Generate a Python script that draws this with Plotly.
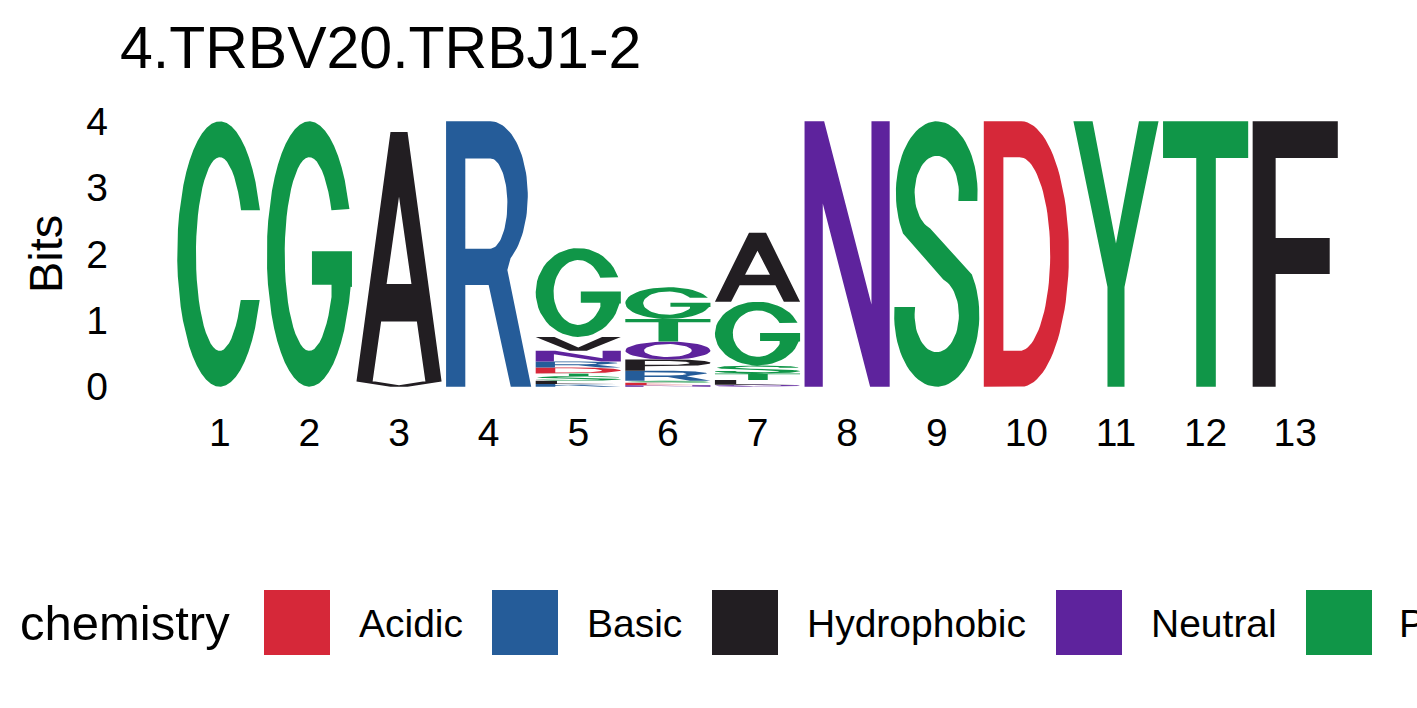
import numpy as np
import plotly.graph_objects as go

# sequence logo, 4.TRBV20.TRBJ1-2, coloured by chemistry (ggseqlogo look)
positions = list(range(1, 14))

# letters stacked bottom -> top at each position, with their height in bits
pos_letters = [
    ["C"],
    ["G"],
    ["V", "A"],
    ["R"],
    ["K", "L", "S", "T", "D", "R", "N", "V", "G"],
    ["N", "E", "S", "R", "P", "Q", "T", "G"],
    ["Q", "L", "T", "S", "G", "A"],
    ["N"],
    ["S"],
    ["D"],
    ["Y"],
    ["T"],
    ["F"],
]
pos_bits = [
    [4.0],
    [4.0],
    [0.08, 3.76],
    [4.0],
    [0.04, 0.05, 0.07, 0.04, 0.09, 0.09, 0.16, 0.21, 1.34],
    [0.02, 0.04, 0.03, 0.15, 0.17, 0.27, 0.34, 0.48],
    [0.03, 0.07, 0.10, 0.12, 0.96, 1.04],
    [4.0],
    [4.0],
    [4.0],
    [4.0],
    [4.0],
    [4.0],
]

groups = ["Acidic", "Basic", "Hydrophobic", "Neutral", "Polar"]
group_colors = ["#D62839", "#255C99", "#221E22", "#5E239D", "#109648"]
group_members = ["DE", "HKR", "AFILMPVW", "NQ", "GSTYC"]

title_text = "4.TRBV20.TRBJ1-2"
y_ticks = [0, 1, 2, 3, 4]

FONT = "Liberation Sans, Arial, Helvetica, sans-serif"
W, H = 1417, 708
ML, MR, MT, MB = 166, 68, 118, 318
PW, PH = W - ML - MR, H - MT - MB


def arc(cx, cy, rx, ry, a0, a1, n=48):
    t = np.linspace(a0, a1, n)
    return list(zip(cx + rx * np.cos(t), cy + ry * np.sin(t)))


# letter outlines in a unit box; first ring is the outline, the rest are holes
def glyph(ch):
    pi = np.pi
    if ch == "C":
        outer = arc(.5, .5, .5, .5, np.arcsin(.33), 2 * pi - np.arcsin(.346))
        inner = arc(.5, .5, .28, .365, -np.arcsin(.173 / .365), np.arcsin(.165 / .365) - 2 * pi)
        return [outer + inner]
    if ch == "G":
        outer = arc(.5, .5, .5, .5, np.arcsin(.34), 2 * pi - .25)
        a = np.arctan2((.338 - .5) / .365, (.76 - .5) / .29)
        inner = arc(.5, .5, .29, .365, a, np.arcsin(.165 / .365) - 2 * pi)
        return [outer + [(1, .376), (1, .51), (.53, .51), (.53, .384), (.76, .384)] + inner]
    if ch == "A":
        return [[(0, 0), (.19, 0), (.29, .24), (.71, .24), (.81, 0), (1, 0), (.6, 1), (.4, 1)],
                [(.354, .39), (.646, .39), (.5, .74)]]
    if ch == "R":
        outer = [(0, 0), (.226, 0), (.226, .383), (.5, .383), (.76, 0), (1, 0), (.72, .44)]
        outer += arc(.52, .72, .44, .28, -1.0, pi / 2) + [(0, 1)]
        hole = [(.226, .52), (.226, .86)] + arc(.52, .69, .2, .17, pi / 2, -pi / 2)
        return [outer, hole]
    if ch == "P":
        outer = [(0, 0), (.23, 0), (.23, .4), (.55, .4)] + arc(.55, .7, .45, .3, -pi / 2, pi / 2) + [(0, 1)]
        hole = [(.23, .53), (.23, .87)] + arc(.52, .7, .24, .17, pi / 2, -pi / 2)
        return [outer, hole]
    if ch == "D":
        outer = [(0, 0), (.44, 0)] + arc(.44, .5, .56, .5, -pi / 2, pi / 2) + [(0, 1)]
        hole = [(.23, .135), (.23, .865)] + arc(.42, .5, .36, .365, pi / 2, -pi / 2)
        return [outer, hole]
    if ch == "Q":
        ring = arc(.5, .5, .5, .5, 0, 2 * pi)
        hole = arc(.5, .5, .28, .36, 0, 2 * pi)
        return [ring, hole]
    if ch == "N":
        return [[(0, 0), (.214, 0), (.214, .69), (.77, 0), (1, 0), (1, 1), (.786, 1),
                 (.786, .31), (.23, 1), (0, 1)]]
    if ch == "S":
        up_out = arc(.5, .73, .48, .27, -np.arcsin(.03 / .27), pi + .6)
        lo_in = arc(.5, .27, .26, .14, pi / 2 - .3, -pi - np.arcsin(.03 / .14))
        lo_out = arc(.5, .27, .5, .27, pi - np.arcsin(.03 / .27), 2 * pi + .6)
        up_in = arc(.5, .73, .26, .14, 1.5 * pi - .3, -np.arcsin(.03 / .14))
        return [up_out + lo_in + lo_out + up_in]
    if ch == "Y":
        return [[(.4, 0), (.6, 0), (.6, .376), (1, 1), (.77, 1), (.5, .54), (.225, 1),
                 (0, 1), (.4, .376)]]
    if ch == "T":
        return [[(.39, 0), (.62, 0), (.62, .862), (1, .862), (1, 1), (0, 1), (0, .862), (.39, .862)]]
    if ch == "F":
        return [[(0, 0), (.27, 0), (.27, .425), (.905, .425), (.905, .56), (.27, .56),
                 (.27, .862), (1, .862), (1, 1), (0, 1)]]
    if ch == "V":
        return [[(0, 1), (.22, 1), (.5, .25), (.78, 1), (1, 1), (.6, 0), (.4, 0)]]
    if ch == "K":
        return [[(0, 0), (.23, 0), (.23, .35), (.38, .5), (.77, 0), (1, 0), (.53, .64),
                 (.97, 1), (.7, 1), (.23, .6), (.23, 1), (0, 1)]]
    if ch == "E":
        return [[(0, 0), (1, 0), (1, .14), (.25, .14), (.25, .44), (.9, .44), (.9, .57),
                 (.25, .57), (.25, .86), (.97, .86), (.97, 1), (0, 1)]]
    if ch == "L":
        return [[(0, 0), (.95, 0), (.95, .14), (.25, .14), (.25, 1), (0, 1)]]
    return [[(0, 0), (1, 0), (1, 1), (0, 1)]]


def signed_area(r):
    a = 0.0
    for (x1, y1), (x2, y2) in zip(r, r[1:] + r[:1]):
        a += x1 * y2 - x2 * y1
    return a / 2


def letter_path(ch, xc, y0, h, half=0.475):
    rings = []
    for i, r in enumerate(glyph(ch)):
        r = list(r)
        ccw = signed_area(r) > 0
        if (i == 0) != ccw:
            r = r[::-1]
        rings.append(r)
    pts = rings[0] + [rings[0][0]]
    for hole in rings[1:]:
        pts += hole + [hole[0], rings[0][0]]
    xs = [xc - half + 2 * half * u for u, v in pts]
    ys = [y0 + h * v for u, v in pts]
    return xs, ys


def group_of(ch):
    for g, members in zip(groups, group_members):
        if ch in members:
            return g
    return groups[-1]


path_x = {g: [] for g in groups}
path_y = {g: [] for g in groups}
for p, letters, bits in zip(positions, pos_letters, pos_bits):
    base = 0.0
    for ch, b in zip(letters, bits):
        xs, ys = letter_path(ch, p, base, b)
        g = group_of(ch)
        path_x[g] += xs + [None]
        path_y[g] += ys + [None]
        base += b

fig = go.Figure()
for g, col in zip(groups, group_colors):
    fig.add_trace(go.Scatter(
        x=path_x[g], y=path_y[g], mode="lines", fill="toself",
        fillcolor=col, line=dict(width=0, color=col),
        hoverinfo="skip", showlegend=False, cliponaxis=False))


def px_x(px):
    return (px - ML) / PW


def px_y(py):
    return (H - MB - py) / PH


annotations = [
    dict(text=title_text, x=px_x(118), y=px_y(48), xanchor="left", yanchor="middle",
         font=dict(size=59, color="black")),
    dict(text="Bits", x=px_x(45), y=px_y(254), xanchor="center", yanchor="middle",
         textangle=-90, font=dict(size=47, color="black")),
    dict(text="chemistry", x=px_x(18), y=px_y(623), xanchor="left", yanchor="middle",
         font=dict(size=49, color="black")),
]
shapes = []
# legend keys: swatch left edge and label left edge, in pixels
key_left = [264, 492, 712, 1056, 1306]
label_left = [357, 585, 805, 1149, 1397]
for g, col, kx, lx in zip(groups, group_colors, key_left, label_left):
    shapes.append(dict(type="rect", xref="paper", yref="paper",
                       x0=px_x(kx), x1=px_x(kx + 66), y0=px_y(655), y1=px_y(590),
                       fillcolor=col, line=dict(width=0)))
    annotations.append(dict(text=g, x=px_x(lx), y=px_y(623), xanchor="left", yanchor="middle",
                            font=dict(size=39, color="black")))
for a in annotations:
    a.update(xref="paper", yref="paper", showarrow=False)

fig.update_layout(
    width=W, height=H, autosize=False,
    margin=dict(l=ML, r=MR, t=MT, b=MB, pad=0),
    paper_bgcolor="white", plot_bgcolor="white",
    font=dict(family=FONT, color="black"),
    showlegend=False,
    annotations=annotations, shapes=shapes,
    xaxis=dict(range=[0.4, 13.6], tickvals=positions, ticktext=[str(p) for p in positions],
               showgrid=False, zeroline=False, showline=False, ticks="",
               tickfont=dict(size=39, color="black"), ticklabelstandoff=16, fixedrange=True),
    yaxis=dict(range=[-0.05, 4.05], tickvals=y_ticks, ticktext=[str(t) for t in y_ticks],
               showgrid=False, zeroline=False, showline=False, ticks="",
               tickfont=dict(size=39, color="black"), ticklabelstandoff=57, fixedrange=True),
)

# drop the page's default body margin so the figure sits at the window corner
fig.write_html("out.html", config={"displayModeBar": False},
               post_script="document.body.style.margin='0';")
